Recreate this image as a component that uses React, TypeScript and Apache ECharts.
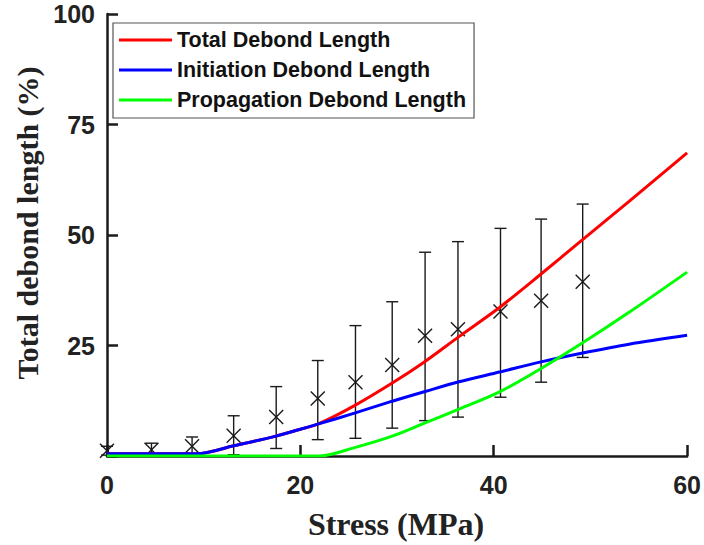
import React, { useEffect, useRef } from 'react';
import * as echarts from 'echarts';

// Model curves (Stress MPa -> debond length %)
const totalX = [0, 8.6, 9.3, 13.1, 17.5, 19.9, 21.8, 25.6, 29.5, 32.9, 36.4, 40.6, 44.8, 49.1, 54, 60];
const totalY = [0.5, 0.5, 0.5, 2.3, 4.5, 6.0, 7.2, 11.4, 16.5, 21.4, 27.0, 33.6, 41.0, 48.8, 57.6, 68.6];
const initX = [0, 8.6, 9.3, 13.1, 17.5, 19.9, 21.8, 25.6, 29.5, 32.9, 36.4, 40.6, 44.9, 49.2, 54, 60];
const initY = [0.5, 0.5, 0.5, 2.3, 4.5, 6.0, 7.2, 9.7, 12.4, 14.6, 16.8, 19.0, 21.3, 23.3, 25.3, 27.3];
const propX = [0, 21.2, 22, 25.6, 29.5, 32.9, 36.4, 40.6, 44.9, 49.2, 54, 60];
const propY = [0, 0, 0, 1.9, 4.5, 7.5, 10.6, 14.5, 19.8, 25.6, 32.5, 41.6];

// Experimental points with error bars
const expStress = [0, 4.6, 8.8, 13.1, 17.5, 21.8, 25.7, 29.5, 32.9, 36.3, 40.7, 44.9, 49.2];
const expMean = [1.2, 1.4, 2.2, 4.6, 8.8, 13.0, 16.7, 20.6, 27.2, 28.7, 32.7, 35.1, 39.4];
const expUpper = [2.2, 2.9, 4.3, 9.1, 15.7, 21.6, 29.5, 34.9, 46.1, 48.5, 51.5, 53.6, 57.0];
const expLower = [0.2, 0.2, 0.4, 0.3, 1.7, 3.7, 4.0, 6.3, 8.0, 8.8, 13.3, 16.7, 22.3];

const xTicks = { min: 0, max: 60, interval: 20 };
const yTicks = { min: 0, max: 100, interval: 25 };

const seriesNames = ['Total Debond Length', 'Initiation Debond Length', 'Propagation Debond Length'];
const seriesColors = ['#ff0000', '#0000ff', '#00ff00'];

const pairs = (xs: number[], ys: number[]) => xs.map((x, i) => [x, ys[i]]);

export default function App() {
  const ref = useRef<HTMLDivElement>(null);
  useEffect(() => {
    if (!ref.current) return;
    const chart = echarts.init(ref.current, undefined, { renderer: 'svg' });
    const axisColor = '#1a1a1a';
    const errData = expStress.map((x, i) => [x, expMean[i], expLower[i], expUpper[i]]);
    const lineSeries = [
      pairs(totalX, totalY),
      pairs(initX, initY),
      pairs(propX, propY),
    ].map((d, i) => ({
      name: seriesNames[i],
      type: 'line',
      data: d,
      showSymbol: false,
      symbol: 'none',
      smooth: 0.3,
      z: 3 + i,
      lineStyle: { color: seriesColors[i], width: 3 },
      itemStyle: { color: seriesColors[i] },
    }));
    chart.setOption({
      animation: false,
      backgroundColor: '#ffffff',
      grid: { left: 107, right: 16, top: 14, bottom: 89 },
      legend: {
        orient: 'vertical',
        left: 113,
        top: 23,
        data: seriesNames,
        icon: 'rect',
        itemWidth: 53,
        itemHeight: 3,
        itemGap: 8,
        padding: [6, 8, 7, 6],
        borderColor: '#555',
        borderWidth: 1.2,
        backgroundColor: '#fff',
        textStyle: {
          fontFamily: 'Liberation Sans',
          fontWeight: 'bold',
          fontSize: 21.5,
          lineHeight: 21,
          color: '#111',
          padding: [0, 0, 0, 0],
        },
      },
      xAxis: {
        type: 'value',
        ...xTicks,
        axisLine: { show: true, lineStyle: { color: axisColor, width: 2.5 } },
        axisTick: { show: true, inside: true, length: 11, lineStyle: { color: axisColor, width: 2.5 } },
        splitLine: { show: false },
        axisLabel: {
          margin: 16,
          fontFamily: 'Liberation Sans',
          fontWeight: 'bold',
          fontSize: 25,
          color: '#222',
        },
      },
      yAxis: {
        type: 'value',
        ...yTicks,
        axisLine: { show: true, lineStyle: { color: axisColor, width: 2.5 } },
        axisTick: { show: true, inside: true, length: 11, lineStyle: { color: axisColor, width: 2.5 } },
        splitLine: { show: false },
        axisLabel: {
          margin: 12,
          fontFamily: 'Liberation Sans',
          fontWeight: 'bold',
          fontSize: 25,
          color: '#222',
          formatter: (v: number) => (v === 0 ? '' : String(v)),
        },
      },
      graphic: [
        {
          type: 'text',
          x: 27,
          y: 223,
          rotation: Math.PI / 2,
          style: {
            text: 'Total debond length (%)',
            fontFamily: 'Liberation Serif',
            fontWeight: 'bold',
            fontSize: 30,
            fill: '#222',
            align: 'center',
            verticalAlign: 'middle',
          },
        },
        {
          type: 'text',
          x: 396,
          y: 524,
          style: {
            text: 'Stress (MPa)',
            fontFamily: 'Liberation Serif',
            fontWeight: 'bold',
            fontSize: 32,
            fill: '#222',
            align: 'center',
            verticalAlign: 'middle',
          },
        },
      ],
      series: [
        {
          type: 'custom',
          name: 'Experimental',
          data: errData,
          encode: { x: 0, y: [1, 2, 3] },
          z: 2,
          clip: false,
          renderItem: (params: any, api: any) => {
            const x = api.value(0);
            const pm = api.coord([x, api.value(1)]);
            const pl = api.coord([x, api.value(2)]);
            const ph = api.coord([x, api.value(3)]);
            const cw = 6;
            const ms = 7;
            const style = { stroke: '#1a1a1a', lineWidth: 1.4, fill: 'none' };
            return {
              type: 'group',
              children: [
                { type: 'line', shape: { x1: pl[0], y1: pl[1], x2: ph[0], y2: ph[1] }, style },
                { type: 'line', shape: { x1: pl[0] - cw, y1: pl[1], x2: pl[0] + cw, y2: pl[1] }, style },
                { type: 'line', shape: { x1: ph[0] - cw, y1: ph[1], x2: ph[0] + cw, y2: ph[1] }, style },
                { type: 'line', shape: { x1: pm[0] - ms, y1: pm[1] - ms, x2: pm[0] + ms, y2: pm[1] + ms }, style },
                { type: 'line', shape: { x1: pm[0] - ms, y1: pm[1] + ms, x2: pm[0] + ms, y2: pm[1] - ms }, style },
              ],
            };
          },
        },
        ...lineSeries,
      ],
    });
    return () => chart.dispose();
  }, []);
  return (
    <div
      ref={ref}
      style={{ position: 'fixed', left: 0, top: 0, width: 704, height: 545, background: '#fff' }}
    />
  );
}
